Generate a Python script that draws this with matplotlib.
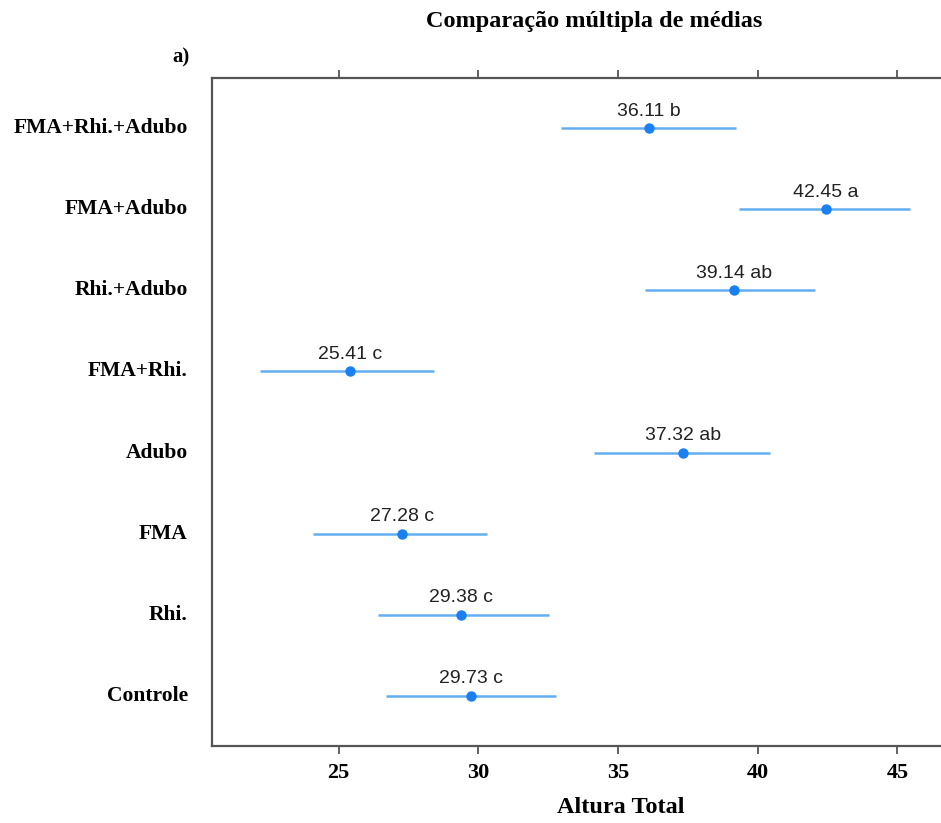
import matplotlib.pyplot as plt

# treatments from top to bottom
treatments = ["FMA+Rhi.+Adubo", "FMA+Adubo", "Rhi.+Adubo", "FMA+Rhi.",
              "Adubo", "FMA", "Rhi.", "Controle"]
means = [36.11, 42.45, 39.14, 25.41, 37.32, 27.28, 29.38, 29.73]
groups = ["b", "a", "ab", "c", "ab", "c", "c", "c"]
lower = [32.96, 39.33, 35.98, 22.20, 34.15, 24.10, 26.40, 26.71]
upper = [39.23, 45.47, 42.05, 28.40, 40.45, 30.30, 32.55, 32.77]
xticks = [25, 30, 35, 40, 45]

serif = ["Liberation Serif", "DejaVu Serif"]
sans = ["Liberation Sans", "DejaVu Sans"]
line_color = "#62aef0"
dot_color = "#1a7ff0"

fig = plt.figure(figsize=(9.41, 8.23), dpi=100)
ax = fig.add_axes([212 / 941, 1 - 746 / 823, 1 - 212 / 941 + 0.01, (746 - 78) / 823])

ys = list(range(len(treatments)))
for y, m, lo, hi, g in zip(ys, means, lower, upper, groups):
    ax.plot([lo, hi], [y, y], color=line_color, lw=1.8, solid_capstyle="butt", zorder=2)
    ax.plot(m, y, "o", color=dot_color, ms=6.5, zorder=3)
    ax.annotate(f"{m:.2f} {g}", (m, y), xytext=(0, 6), textcoords="offset points",
                ha="center", va="bottom", fontsize=14, color="#222222", family=sans)

ax.set_xlim(20.47, 46.9)
ax.set_ylim(len(treatments) - 0.38, -0.62)

ax.set_xticks(xticks)
ax.set_xticklabels([str(t) for t in xticks], family=serif, fontweight="bold", fontsize=16)
ax.tick_params(axis="x", which="both", top=True, bottom=True, labeltop=False,
               direction="out", length=6, width=1.3, color="#555555", pad=6)
ax.set_yticks([])

for t, y in zip(treatments, ys):
    ax.text(-0.033, y, t, transform=ax.get_yaxis_transform(), ha="right", va="center",
            family=serif, fontweight="bold", fontsize=15.5)

for side in ["left", "top", "bottom"]:
    ax.spines[side].set_color("#555555")
    ax.spines[side].set_linewidth(1.6)
ax.spines["right"].set_visible(False)

ax.set_xlabel("Altura Total", family=serif, fontweight="bold", fontsize=17.5)
ax.xaxis.set_label_coords((621 - 212) / (941 - 212 + 9.41), -0.077)

fig.text(594 / 941, 1 - 22 / 823, "Comparação múltipla de médias", ha="center", va="center",
         family=serif, fontweight="bold", fontsize=17.5)
fig.text(181 / 941, 1 - 57 / 823, "a)", ha="center", va="center",
         family=serif, fontweight="bold", fontsize=15)

fig.savefig("out.png", dpi=100)
